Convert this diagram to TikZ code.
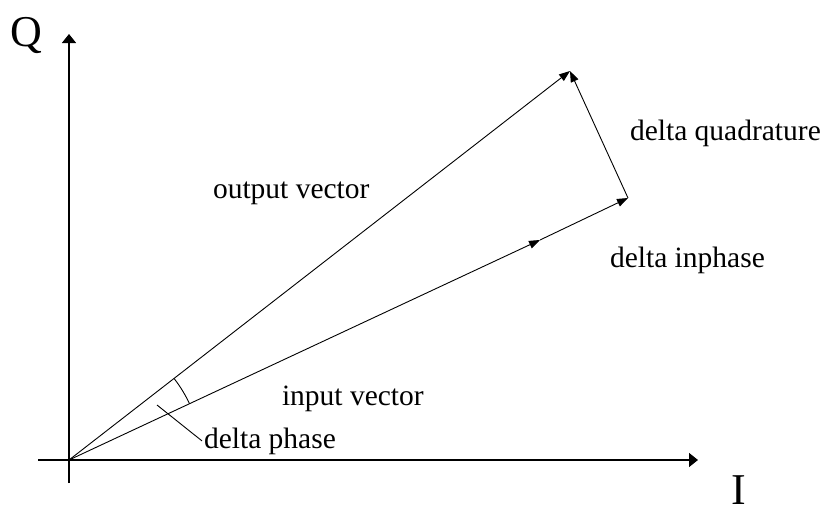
\documentclass[tikz,border=0pt]{standalone}
\usepackage{fontspec}
\setmainfont{Liberation Serif}
\usetikzlibrary{arrows.meta, calc, positioning}

\tikzset{
    lbl/.style={anchor=base west, inner sep=0pt, outer sep=0pt, font=\fontsize{29.5}{34}\selectfont},
    axlbl/.style={anchor=base west, inner sep=0pt, font=\fontsize{44}{48}\selectfont},
    axis/.style={line width=1.5pt, -{Triangle[length=9pt,width=14pt]}},
    vec/.style={line width=0.9pt, -{Triangle[length=11pt,width=8pt]}}
}

\begin{document}
\begin{tikzpicture}[x=1pt, y=-1pt]
    \useasboundingbox (0,0) rectangle (825,514);
    % Points
    \coordinate (O) at (69,460);
    \coordinate (outtip) at (570,71);
    \coordinate (intip) at (540,240);
    \coordinate (sumtip) at (628,198);

    % Axes
    \coordinate (xstart) at (38,460);
    \coordinate (xend) at (698,460);
    \coordinate (ystart) at (69,483);
    \coordinate (yend) at (69,34);
    \draw[axis] (xstart) -- (xend);
    \draw[axis] (ystart) -- (yend);
    \node[axlbl] (Q) at (10,46) {Q};
    \node[axlbl] (I) at (731,504) {I};

    % Vectors
    \draw[vec] (O) -- (outtip);
    \draw[vec] (O) -- (intip);
    \draw[vec] (intip) -- (sumtip);
    \draw[vec] (sumtip) -- (outtip);

    % Angle between the vectors
    \draw[line width=0.9pt] ($(O)+(37.8:133 and -133)$) arc[start angle=37.8, end angle=25.1, x radius=133, y radius=-133];

    % Labels
    \node[lbl] (outlbl) at (213,198) {output vector};
    \node[lbl] (inlbl) at (282,405) {input vector};
    \node[lbl] (dquad) at (630,140) {delta quadrature};
    \node[lbl] (dinph) at (610,267) {delta inphase};
    \node[lbl, outer sep=2pt] (dphase) at (202,448) {delta phase};
    \coordinate (phstart) at (157,405);
    \draw[line width=0.9pt] (phstart) -- (dphase.west);
\end{tikzpicture}
\end{document}
